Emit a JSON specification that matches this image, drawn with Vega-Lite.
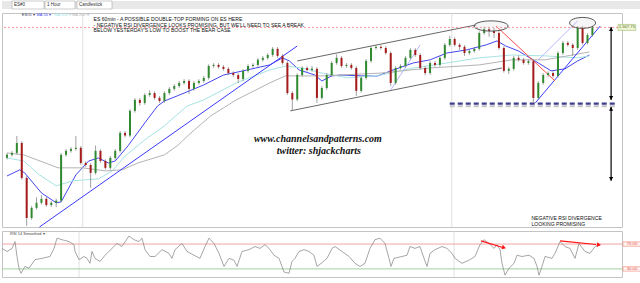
{
"$schema": "https://vega.github.io/schema/vega-lite/v6.json",
"padding": 0,
"spacing": 2,
"background": "white",
"config": {"font": "Liberation Sans", "view": {"stroke": "#c4c4c4"}, "axis": {"labelFont": "Liberation Sans", "titleFont": "Liberation Sans"}},
"datasets": {
"toolbar": [{"a": 10, "b": 42, "t": "ES#0"}, {"a": 43, "b": 73, "t": "1 Hour"}, {"a": 75, "b": 110, "t": "Candlestick"}],
"months": [{"i": 77}, {"i": 452}],
"candles": [
{"i":0,"o":1508.5,"h":1510.6,"l":1507.7,"c":1509.8},{"i":5,"o":1509.8,"h":1511.5,"l":1509.0,"c":1510.7},{"i":10,"o":1510.7,"h":1518.4,"l":1509.9,"c":1515.2},{"i":15,"o":1515.2,"h":1516.0,"l":1498.5,"c":1499.3},{"i":20,"o":1499.3,"h":1500.1,"l":1477.5,"c":1481.1},
{"i":25,"o":1481.1,"h":1486.5,"l":1480.3,"c":1485.7},{"i":30,"o":1485.7,"h":1490.5,"l":1484.9,"c":1488.0},{"i":35,"o":1488.0,"h":1491.5,"l":1487.2,"c":1489.8},{"i":40,"o":1489.8,"h":1490.6,"l":1486.2,"c":1487.0},{"i":45,"o":1487.0,"h":1488.8,"l":1486.2,"c":1488.0},
{"i":50,"o":1488.0,"h":1489.8,"l":1486.0,"c":1489.0},{"i":55,"o":1489.0,"h":1510.6,"l":1488.2,"c":1509.8},{"i":60,"o":1509.8,"h":1512.4,"l":1509.0,"c":1511.6},{"i":65,"o":1511.6,"h":1513.3,"l":1510.8,"c":1512.5},{"i":70,"o":1512.5,"h":1518.4,"l":1511.7,"c":1513.0},
{"i":75,"o":1513.0,"h":1513.8,"l":1505.3,"c":1506.1},{"i":80,"o":1506.1,"h":1506.9,"l":1504.4,"c":1505.2},{"i":85,"o":1505.2,"h":1506.0,"l":1494.8,"c":1501.6},{"i":90,"o":1501.6,"h":1514.0,"l":1500.8,"c":1511.6},{"i":95,"o":1511.6,"h":1512.4,"l":1506.2,"c":1507.0},
{"i":100,"o":1507.0,"h":1507.8,"l":1503.1,"c":1503.9},{"i":105,"o":1503.9,"h":1509.2,"l":1503.1,"c":1508.4},{"i":110,"o":1508.4,"h":1512.4,"l":1507.6,"c":1511.6},{"i":115,"o":1511.6,"h":1520.6,"l":1510.8,"c":1519.8},{"i":120,"o":1519.8,"h":1520.6,"l":1517.8,"c":1518.6},
{"i":125,"o":1518.6,"h":1530.6,"l":1517.8,"c":1529.8},{"i":130,"o":1529.8,"h":1535.6,"l":1529.0,"c":1534.8},{"i":135,"o":1534.8,"h":1535.6,"l":1532.2,"c":1533.4},{"i":140,"o":1533.4,"h":1537.8,"l":1532.6,"c":1537.0},{"i":145,"o":1537.0,"h":1539.2,"l":1536.2,"c":1537.9},
{"i":150,"o":1537.9,"h":1538.7,"l":1534.9,"c":1535.7},{"i":155,"o":1535.7,"h":1536.5,"l":1533.5,"c":1534.3},{"i":160,"o":1534.3,"h":1538.7,"l":1533.5,"c":1537.9},{"i":165,"o":1537.9,"h":1540.6,"l":1537.1,"c":1539.8},{"i":170,"o":1539.8,"h":1541.9,"l":1539.0,"c":1541.1},
{"i":175,"o":1541.1,"h":1543.3,"l":1540.3,"c":1542.5},{"i":180,"o":1542.5,"h":1544.2,"l":1541.7,"c":1543.4},{"i":185,"o":1543.4,"h":1544.2,"l":1537.5,"c":1539.8},{"i":190,"o":1539.8,"h":1543.3,"l":1539.0,"c":1542.5},{"i":195,"o":1542.5,"h":1544.2,"l":1541.7,"c":1543.4},
{"i":200,"o":1543.4,"h":1545.6,"l":1542.6,"c":1544.8},{"i":205,"o":1544.8,"h":1551.0,"l":1544.0,"c":1550.2},{"i":210,"o":1550.2,"h":1551.5,"l":1549.4,"c":1550.7},{"i":215,"o":1550.7,"h":1551.5,"l":1549.0,"c":1549.8},{"i":220,"o":1549.8,"h":1550.6,"l":1548.1,"c":1548.9},
{"i":225,"o":1548.9,"h":1549.7,"l":1546.2,"c":1547.0},{"i":230,"o":1547.0,"h":1547.8,"l":1545.3,"c":1546.1},{"i":235,"o":1546.1,"h":1546.9,"l":1542.5,"c":1544.3},{"i":240,"o":1544.3,"h":1548.8,"l":1543.5,"c":1548.0},{"i":245,"o":1548.0,"h":1551.0,"l":1547.2,"c":1550.2},
{"i":250,"o":1550.2,"h":1551.5,"l":1549.4,"c":1550.7},{"i":255,"o":1550.7,"h":1553.8,"l":1549.9,"c":1553.0},{"i":260,"o":1553.0,"h":1554.7,"l":1552.2,"c":1553.9},{"i":265,"o":1553.9,"h":1556.0,"l":1553.1,"c":1555.2},{"i":270,"o":1555.2,"h":1558.8,"l":1554.4,"c":1558.0},
{"i":275,"o":1558.0,"h":1558.8,"l":1554.0,"c":1554.8},{"i":280,"o":1554.8,"h":1555.6,"l":1550.8,"c":1551.6},{"i":285,"o":1551.6,"h":1552.4,"l":1537.1,"c":1537.9},{"i":290,"o":1537.9,"h":1538.7,"l":1529.8,"c":1535.0},{"i":295,"o":1535.0,"h":1546.9,"l":1534.2,"c":1546.1},
{"i":300,"o":1546.1,"h":1550.1,"l":1545.3,"c":1549.3},{"i":305,"o":1549.3,"h":1550.1,"l":1547.6,"c":1548.4},{"i":310,"o":1548.4,"h":1550.2,"l":1547.6,"c":1548.9},{"i":315,"o":1548.9,"h":1549.7,"l":1533.4,"c":1535.7},{"i":320,"o":1535.7,"h":1541.0,"l":1534.9,"c":1540.2},
{"i":325,"o":1540.2,"h":1546.9,"l":1539.4,"c":1546.1},{"i":330,"o":1546.1,"h":1552.4,"l":1545.3,"c":1551.6},{"i":335,"o":1551.6,"h":1555.5,"l":1550.8,"c":1553.9},{"i":340,"o":1553.9,"h":1554.7,"l":1549.4,"c":1550.2},{"i":345,"o":1550.2,"h":1551.5,"l":1549.4,"c":1550.7},
{"i":350,"o":1550.7,"h":1551.5,"l":1548.5,"c":1549.3},{"i":355,"o":1549.3,"h":1550.1,"l":1536.6,"c":1538.9},{"i":360,"o":1538.9,"h":1545.6,"l":1538.1,"c":1544.8},{"i":365,"o":1544.8,"h":1553.3,"l":1544.0,"c":1552.5},{"i":370,"o":1552.5,"h":1559.2,"l":1551.7,"c":1558.4},
{"i":375,"o":1558.4,"h":1559.7,"l":1557.6,"c":1558.9},{"i":380,"o":1558.9,"h":1559.7,"l":1557.6,"c":1558.4},{"i":385,"o":1558.4,"h":1559.2,"l":1555.3,"c":1556.1},{"i":390,"o":1556.1,"h":1556.9,"l":1541.0,"c":1542.5},{"i":395,"o":1542.5,"h":1550.1,"l":1541.7,"c":1549.3},
{"i":400,"o":1549.3,"h":1551.0,"l":1548.5,"c":1550.2},{"i":405,"o":1550.2,"h":1554.7,"l":1549.4,"c":1553.9},{"i":410,"o":1553.9,"h":1558.3,"l":1553.1,"c":1557.5},{"i":415,"o":1557.5,"h":1558.3,"l":1554.4,"c":1555.2},{"i":420,"o":1555.2,"h":1556.0,"l":1548.5,"c":1549.3},
{"i":425,"o":1549.3,"h":1550.1,"l":1546.0,"c":1547.0},{"i":430,"o":1547.0,"h":1552.4,"l":1546.2,"c":1551.6},{"i":435,"o":1551.6,"h":1552.4,"l":1549.9,"c":1550.7},{"i":440,"o":1550.7,"h":1554.7,"l":1549.9,"c":1553.9},{"i":445,"o":1553.9,"h":1560.6,"l":1553.1,"c":1559.8},
{"i":450,"o":1559.8,"h":1563.9,"l":1559.0,"c":1562.5},{"i":455,"o":1562.5,"h":1563.3,"l":1559.0,"c":1559.8},{"i":460,"o":1559.8,"h":1560.6,"l":1557.5,"c":1558.9},{"i":465,"o":1558.9,"h":1559.7,"l":1554.8,"c":1556.1},{"i":470,"o":1556.1,"h":1557.8,"l":1555.3,"c":1557.0},
{"i":475,"o":1557.0,"h":1558.8,"l":1556.2,"c":1558.0},{"i":480,"o":1558.0,"h":1566.0,"l":1557.2,"c":1565.2},{"i":485,"o":1565.2,"h":1568.0,"l":1564.4,"c":1567.0},{"i":490,"o":1567.0,"h":1567.8,"l":1563.5,"c":1566.1},{"i":495,"o":1566.1,"h":1567.5,"l":1563.0,"c":1565.2},
{"i":500,"o":1565.2,"h":1566.0,"l":1557.6,"c":1558.4},{"i":505,"o":1558.4,"h":1559.2,"l":1547.2,"c":1548.0},{"i":510,"o":1548.0,"h":1549.7,"l":1546.5,"c":1548.9},{"i":515,"o":1548.9,"h":1554.7,"l":1548.1,"c":1553.9},{"i":520,"o":1553.9,"h":1555.0,"l":1552.2,"c":1553.0},
{"i":525,"o":1553.0,"h":1553.8,"l":1550.8,"c":1551.6},{"i":530,"o":1551.6,"h":1553.2,"l":1550.8,"c":1552.4},{"i":535,"o":1552.4,"h":1553.2,"l":1533.4,"c":1535.7},{"i":540,"o":1535.7,"h":1543.3,"l":1534.9,"c":1542.5},{"i":545,"o":1542.5,"h":1546.9,"l":1541.7,"c":1546.1},
{"i":550,"o":1546.1,"h":1547.8,"l":1545.3,"c":1547.0},{"i":555,"o":1547.0,"h":1547.8,"l":1544.9,"c":1545.7},{"i":560,"o":1545.7,"h":1556.9,"l":1544.9,"c":1556.1},{"i":565,"o":1556.1,"h":1561.5,"l":1555.3,"c":1560.7},{"i":570,"o":1560.7,"h":1561.5,"l":1559.0,"c":1559.8},
{"i":575,"o":1559.8,"h":1560.6,"l":1554.8,"c":1558.4},{"i":580,"o":1558.4,"h":1568.3,"l":1557.6,"c":1567.5},{"i":585,"o":1567.5,"h":1568.3,"l":1559.9,"c":1560.7},{"i":590,"o":1560.7,"h":1565.1,"l":1559.9,"c":1564.3},{"i":595,"o":1564.3,"h":1568.5,"l":1563.5,"c":1567.75}
],
"ma": [
{"s":"ma50","i":0,"p":1500.2},{"s":"ma50","i":13,"p":1503.0},{"s":"ma50","i":18,"p":1501.6},{"s":"ma50","i":35,"p":1492.5},{"s":"ma50","i":50,"p":1488.0},{"s":"ma50","i":55,"p":1488.4},{"s":"ma50","i":70,"p":1500.7},{"s":"ma50","i":83,"p":1507.0},{"s":"ma50","i":93,"p":1508.4},{"s":"ma50","i":103,"p":1506.1},{"s":"ma50","i":110,"p":1507.0},{"s":"ma50","i":123,"p":1513.9},{"s":"ma50","i":140,"p":1524.3},{"s":"ma50","i":153,"p":1532.0},{"s":"ma50","i":160,"p":1534.3},{"s":"ma50","i":173,"p":1536.6},{"s":"ma50","i":200,"p":1541.6},{"s":"ma50","i":220,"p":1546.1},{"s":"ma50","i":240,"p":1548.0},{"s":"ma50","i":267,"p":1550.7},{"s":"ma50","i":280,"p":1553.9},{"s":"ma50","i":287,"p":1552.5},{"s":"ma50","i":297,"p":1548.4},{"s":"ma50","i":313,"p":1546.1},{"s":"ma50","i":320,"p":1543.4},{"s":"ma50","i":330,"p":1545.7},{"s":"ma50","i":340,"p":1546.1},{"s":"ma50","i":360,"p":1545.7},{"s":"ma50","i":377,"p":1545.7},{"s":"ma50","i":390,"p":1548.0},{"s":"ma50","i":413,"p":1551.6},{"s":"ma50","i":430,"p":1553.0},{"s":"ma50","i":447,"p":1556.1},{"s":"ma50","i":467,"p":1557.5},{"s":"ma50","i":487,"p":1559.8},{"s":"ma50","i":498,"p":1561.6},{"s":"ma50","i":507,"p":1559.3},{"s":"ma50","i":520,"p":1557.0},{"s":"ma50","i":540,"p":1551.6},{"s":"ma50","i":553,"p":1548.0},{"s":"ma50","i":567,"p":1548.9},{"s":"ma50","i":580,"p":1552.5},{"s":"ma50","i":592,"p":1555.2},
{"s":"ma100","i":0,"p":1508.4},{"s":"ma100","i":17,"p":1507.0},{"s":"ma100","i":33,"p":1500.7},{"s":"ma100","i":50,"p":1495.7},{"s":"ma100","i":67,"p":1498.0},{"s":"ma100","i":93,"p":1498.9},{"s":"ma100","i":107,"p":1502.5},{"s":"ma100","i":120,"p":1509.3},{"s":"ma100","i":140,"p":1516.6},{"s":"ma100","i":160,"p":1523.0},{"s":"ma100","i":183,"p":1532.0},{"s":"ma100","i":200,"p":1534.8},{"s":"ma100","i":233,"p":1542.5},{"s":"ma100","i":267,"p":1548.4},{"s":"ma100","i":283,"p":1550.2},{"s":"ma100","i":300,"p":1549.3},{"s":"ma100","i":320,"p":1547.0},{"s":"ma100","i":347,"p":1544.8},{"s":"ma100","i":380,"p":1546.1},{"s":"ma100","i":413,"p":1549.3},{"s":"ma100","i":447,"p":1551.6},{"s":"ma100","i":480,"p":1553.9},{"s":"ma100","i":513,"p":1555.2},{"s":"ma100","i":547,"p":1554.8},{"s":"ma100","i":580,"p":1553.9},{"s":"ma100","i":592,"p":1554.8},
{"s":"ma200","i":0,"p":1510.7},{"s":"ma200","i":17,"p":1509.8},{"s":"ma200","i":52,"p":1503.9},{"s":"ma200","i":77,"p":1503.9},{"s":"ma200","i":100,"p":1502.5},{"s":"ma200","i":117,"p":1503.0},{"s":"ma200","i":133,"p":1506.1},{"s":"ma200","i":160,"p":1509.8},{"s":"ma200","i":173,"p":1513.9},{"s":"ma200","i":187,"p":1519.8},{"s":"ma200","i":207,"p":1527.5},{"s":"ma200","i":233,"p":1534.8},{"s":"ma200","i":267,"p":1542.5},{"s":"ma200","i":283,"p":1545.7},{"s":"ma200","i":320,"p":1545.7},{"s":"ma200","i":380,"p":1547.0},{"s":"ma200","i":430,"p":1549.3},{"s":"ma200","i":480,"p":1550.7},{"s":"ma200","i":513,"p":1553.0},{"s":"ma200","i":547,"p":1553.0},{"s":"ma200","i":592,"p":1556.6}
],
"legend": [{"s":"ma50","i":30,"p":1573.4,"t":"MA 50 ▾"},{"s":"ma100","i":48,"p":1573.4,"t":"MA 100 ▾"},{"s":"ma200","i":66,"p":1573.4,"t":"MA 200 ▾"}],
"sym": [{"i":15,"p":1573.4,"t":"ES#0 ▾"}],
"tl_chan": [{"i":295,"i2":477,"p":1552.5,"p2":1568.9},{"i":288,"i2":503,"p":1529.8,"p2":1549.3}],
"tl_blue": [{"i":33,"i2":295,"p":1477.0,"p2":1559.3},{"i":537,"i2":603,"p":1533.4,"p2":1568.4}],
"tl_lav": [{"i":390,"i2":420,"p":1539.3,"p2":1559.8},{"i":540,"i2":580,"p":1553.0,"p2":1570.7}],
"tl_red": [{"i":497,"i2":557,"p":1568.4,"p2":1543.4}],
"resist": [{"p":1567.75}],
"support": [{"i":450,"i2":620,"p":1533.1}],
"support_shadow": [{"i":450,"i2":620,"p":1531.9}],
"ell1": [{"i":492,"p":1568.4}],
"ell2": [{"i":585,"p":1569.8}],
"arrows": [{"i":614,"p":1567.9,"p2":1534.8},{"i":614,"p":1531.6,"p2":1498.0}],
"heads": [{"i":614,"p":1567.0,"dir":"up"},{"i":614,"p":1535.7,"dir":"down"},{"i":614,"p":1530.7,"dir":"up"},{"i":614,"p":1498.9,"dir":"down"}],
"title_txt": [{"i":88,"p":1571.7,"t":"ES 60min - A POSSIBLE DOUBLE-TOP FORMING ON ES HERE"},{"i":88,"p":1569.0,"t":"- NEGATIVE RSI DIVERGENCE LOOKS PROMISING, BUT WE'LL NEED TO SEE A BREAK"},{"i":88,"p":1566.5,"t":"BELOW YESTERDAY'S LOW TO BOOST THE BEAR CASE"}],
"wm_txt": [{"i":316,"p":1516.8,"t":"www.channelsandpatterns.com"},{"i":317,"p":1511.4,"t":"twitter: shjackcharts"}],
"note_txt": [{"i":533,"p":1481.1,"t":"NEGATIVE RSI DIVERGENCE"},{"i":533,"p":1478.4,"t":"LOOKING PROMISING"}],
"pricebox": [{"i":621,"i2":639,"p":1566.4,"p2":1569.1,"m":630,"q":1567.75,"t":"1,567.75"}],
"rsi": [
{"i":0,"r":63},{"i":5,"r":58},{"i":10,"r":63},{"i":13,"r":74},{"i":15,"r":50},{"i":17,"r":31},{"i":19,"r":23},{"i":23,"r":34},{"i":27,"r":31},{"i":33,"r":45},{"i":40,"r":47},{"i":48,"r":50},{"i":52,"r":63},{"i":55,"r":79.5},{"i":60,"r":77},{"i":67,"r":74},{"i":72,"r":69},{"i":73,"r":58},{"i":77,"r":45},{"i":82,"r":50},{"i":85,"r":47},{"i":88,"r":39},{"i":90,"r":58},{"i":93,"r":47},{"i":98,"r":42},{"i":103,"r":52},{"i":110,"r":63},{"i":115,"r":71},{"i":120,"r":66},{"i":127,"r":83},{"i":132,"r":77},{"i":137,"r":74},{"i":140,"r":79.5},{"i":143,"r":61},{"i":148,"r":50},{"i":153,"r":50},{"i":160,"r":61},{"i":167,"r":55},{"i":170,"r":47},{"i":173,"r":61},{"i":180,"r":71},{"i":185,"r":58},{"i":192,"r":52},{"i":198,"r":47},{"i":203,"r":66},{"i":207,"r":79.5},{"i":212,"r":71},{"i":217,"r":55},{"i":222,"r":34},{"i":227,"r":47},{"i":232,"r":44},{"i":235,"r":34},{"i":240,"r":58},{"i":247,"r":61},{"i":253,"r":66},{"i":258,"r":63},{"i":263,"r":69},{"i":267,"r":63},{"i":272,"r":52},{"i":277,"r":47},{"i":282,"r":25},{"i":287,"r":23},{"i":290,"r":42},{"i":293,"r":47},{"i":297,"r":58},{"i":302,"r":61},{"i":307,"r":58},{"i":312,"r":52},{"i":315,"r":34},{"i":320,"r":40},{"i":325,"r":47},{"i":330,"r":63},{"i":333,"r":66},{"i":340,"r":58},{"i":347,"r":50},{"i":353,"r":39},{"i":358,"r":34},{"i":363,"r":39},{"i":368,"r":63},{"i":373,"r":77},{"i":378,"r":79.5},{"i":383,"r":71},{"i":387,"r":47},{"i":389,"r":34},{"i":392,"r":47},{"i":400,"r":50},{"i":405,"r":52},{"i":408,"r":66},{"i":413,"r":63},{"i":418,"r":66},{"i":422,"r":47},{"i":425,"r":34},{"i":428,"r":55},{"i":433,"r":61},{"i":440,"r":66},{"i":445,"r":63},{"i":450,"r":55},{"i":453,"r":47},{"i":460,"r":39},{"i":467,"r":44},{"i":473,"r":50},{"i":478,"r":69},{"i":482,"r":77},{"i":487,"r":71},{"i":492,"r":63},{"i":495,"r":69},{"i":498,"r":61},{"i":500,"r":39},{"i":503,"r":20},{"i":507,"r":31},{"i":512,"r":39},{"i":515,"r":52},{"i":520,"r":50},{"i":527,"r":52},{"i":532,"r":47},{"i":535,"r":34},{"i":537,"r":20},{"i":540,"r":34},{"i":543,"r":50},{"i":550,"r":47},{"i":553,"r":55},{"i":558,"r":74},{"i":563,"r":66},{"i":568,"r":63},{"i":573,"r":47},{"i":577,"r":71},{"i":583,"r":58},{"i":588,"r":55},{"i":593,"r":66},{"i":597,"r":69}
],
"rsi_lvl_hi": [{"r":70}],
"rsi_lvl_lo": [{"r":30}],
"rsi_arrows": [{"i":479,"i2":500,"r":75.1,"r2":65.0},{"i":558,"i2":594,"r":75.1,"r2":69.2}],
"rsi_head1": [{"i":502,"r":64.4}],
"rsi_head2": [{"i":597,"r":68.8}],
"rsi_boxes": [{"i":621,"i2":639,"r":73.6,"r2":66.4,"m":630,"q":70,"t":"70.00"},{"i":621,"i2":639,"r":33.6,"r2":26.4,"m":630,"q":30,"t":"30.00"}],
"rsi_title": [{"i":8,"r":86,"t":"RSI 14 Smoothed ▾"}]
},
"vconcat": [
{
"width": 640, "height": 8,
"view": {"fill": "#e8e8e8", "stroke": null},
"data": {"name": "toolbar"},
"layer": [
{"mark": {"type": "rect", "fill": "white", "stroke": "#9a9a9a", "strokeWidth": 0.5},
 "encoding": {"x": {"field": "a", "type": "quantitative", "scale": {"domain": [0, 640], "nice": false, "zero": false}, "axis": null}, "x2": {"field": "b"}}},
{"mark": {"type": "text", "align": "left", "baseline": "middle", "fontSize": 4.5, "color": "#333", "dx": 2},
 "encoding": {"x": {"field": "a", "type": "quantitative", "scale": {"domain": [0, 640], "nice": false, "zero": false}, "axis": null}, "text": {"field": "t"}}}
]
},
{
"width": 620, "height": 214,
"layer": [
{"data": {"name": "months"}, "mark": {"type": "rule", "color": "#d8d8d8", "strokeWidth": 0.8},
 "encoding": {"x": {"field": "i", "type": "quantitative", "scale": {"domain": [0, 620], "nice": false, "zero": false}, "axis": null}}},
{"data": {"name": "ma"}, "mark": {"type": "line", "strokeWidth": 1},
 "encoding": {
  "x": {"field": "i", "type": "quantitative", "scale": {"domain": [0, 620], "nice": false, "zero": false}, "axis": null},
  "y": {"field": "p", "type": "quantitative", "scale": {"domain": [1477, 1574.3], "nice": false, "zero": false},
        "axis": {"orient": "right", "values": [1480, 1490, 1500, 1510, 1520, 1530, 1540, 1550, 1560, 1570], "format": ",.2f", "title": null, "grid": true, "gridColor": "#e4e4e4", "labelFontSize": 4.2, "labelColor": "#555", "tickSize": 2, "tickColor": "#999", "labelPadding": 1, "domainColor": "#999"}},
  "color": {"field": "s", "type": "nominal", "scale": {"domain": ["ma50", "ma100", "ma200"], "range": ["#4646f0", "#a6e3e3", "#b4b4b4"]}, "legend": null}}},
{"data": {"name": "tl_chan"}, "mark": {"type": "rule", "color": "#404040", "strokeWidth": 0.8},
 "encoding": {"x": {"field": "i", "type": "quantitative", "scale": {"domain": [0, 620], "nice": false, "zero": false}, "axis": null}, "x2": {"field": "i2"},
  "y": {"field": "p", "type": "quantitative", "scale": {"domain": [1477, 1574.3], "nice": false, "zero": false}, "axis": null}, "y2": {"field": "p2"}}},
{"data": {"name": "tl_blue"}, "mark": {"type": "rule", "color": "#3a3aff", "strokeWidth": 1},
 "encoding": {"x": {"field": "i", "type": "quantitative", "scale": {"domain": [0, 620], "nice": false, "zero": false}, "axis": null}, "x2": {"field": "i2"},
  "y": {"field": "p", "type": "quantitative", "scale": {"domain": [1477, 1574.3], "nice": false, "zero": false}, "axis": null}, "y2": {"field": "p2"}}},
{"data": {"name": "tl_lav"}, "mark": {"type": "rule", "color": "#a4a4ff", "strokeWidth": 0.8},
 "encoding": {"x": {"field": "i", "type": "quantitative", "scale": {"domain": [0, 620], "nice": false, "zero": false}, "axis": null}, "x2": {"field": "i2"},
  "y": {"field": "p", "type": "quantitative", "scale": {"domain": [1477, 1574.3], "nice": false, "zero": false}, "axis": null}, "y2": {"field": "p2"}}},
{"data": {"name": "tl_red"}, "mark": {"type": "rule", "color": "#ff4a4a", "strokeWidth": 1},
 "encoding": {"x": {"field": "i", "type": "quantitative", "scale": {"domain": [0, 620], "nice": false, "zero": false}, "axis": null}, "x2": {"field": "i2"},
  "y": {"field": "p", "type": "quantitative", "scale": {"domain": [1477, 1574.3], "nice": false, "zero": false}, "axis": null}, "y2": {"field": "p2"}}},
{"data": {"name": "resist"}, "mark": {"type": "rule", "color": "#ff7a7a", "strokeWidth": 0.8, "strokeDash": [2, 2]},
 "encoding": {"y": {"field": "p", "type": "quantitative", "scale": {"domain": [1477, 1574.3], "nice": false, "zero": false}, "axis": null}}},
{"data": {"name": "support_shadow"}, "mark": {"type": "rule", "color": "#c4c4c4", "strokeWidth": 2, "strokeDash": [5, 3]},
 "encoding": {"x": {"field": "i", "type": "quantitative", "scale": {"domain": [0, 620], "nice": false, "zero": false}, "axis": null}, "x2": {"field": "i2"},
  "y": {"field": "p", "type": "quantitative", "scale": {"domain": [1477, 1574.3], "nice": false, "zero": false}, "axis": null}}},
{"data": {"name": "support"}, "mark": {"type": "rule", "color": "#3c3c8e", "strokeWidth": 2.4, "strokeDash": [5, 3]},
 "encoding": {"x": {"field": "i", "type": "quantitative", "scale": {"domain": [0, 620], "nice": false, "zero": false}, "axis": null}, "x2": {"field": "i2"},
  "y": {"field": "p", "type": "quantitative", "scale": {"domain": [1477, 1574.3], "nice": false, "zero": false}, "axis": null}}},
{"data": {"name": "candles"}, "mark": {"type": "rule", "color": "#777777", "strokeWidth": 0.7},
 "encoding": {"x": {"field": "i", "type": "quantitative", "scale": {"domain": [0, 620], "nice": false, "zero": false}, "axis": null},
  "y": {"field": "l", "type": "quantitative", "scale": {"domain": [1477, 1574.3], "nice": false, "zero": false}, "axis": null}, "y2": {"field": "h"}}},
{"data": {"name": "candles"}, "mark": {"type": "bar", "size": 2},
 "encoding": {"x": {"field": "i", "type": "quantitative", "scale": {"domain": [0, 620], "nice": false, "zero": false}, "axis": null},
  "y": {"field": "o", "type": "quantitative", "scale": {"domain": [1477, 1574.3], "nice": false, "zero": false}, "axis": null}, "y2": {"field": "c"},
  "color": {"condition": {"test": "datum.c >= datum.o", "value": "#2f8a2f"}, "value": "#a51a1a"}}},
{"data": {"name": "ell1"}, "mark": {"type": "point", "shape": "M -1 0 A 1 0.3 0 1 1 1 0 A 1 0.3 0 1 1 -1 0 Z", "size": 1156, "fill": "#d4d4d4", "fillOpacity": 0.2, "stroke": "#444", "strokeWidth": 0.9, "opacity": 1},
 "encoding": {"x": {"field": "i", "type": "quantitative", "scale": {"domain": [0, 620], "nice": false, "zero": false}, "axis": null},
  "y": {"field": "p", "type": "quantitative", "scale": {"domain": [1477, 1574.3], "nice": false, "zero": false}, "axis": null}}},
{"data": {"name": "ell2"}, "mark": {"type": "point", "shape": "M -1 0 A 1 0.42 0 1 1 1 0 A 1 0.42 0 1 1 -1 0 Z", "size": 676, "fill": "#d4d4d4", "fillOpacity": 0.2, "stroke": "#444", "strokeWidth": 0.9, "opacity": 1},
 "encoding": {"x": {"field": "i", "type": "quantitative", "scale": {"domain": [0, 620], "nice": false, "zero": false}, "axis": null},
  "y": {"field": "p", "type": "quantitative", "scale": {"domain": [1477, 1574.3], "nice": false, "zero": false}, "axis": null}}},
{"data": {"name": "arrows"}, "mark": {"type": "rule", "color": "#000", "strokeWidth": 1.2},
 "encoding": {"x": {"field": "i", "type": "quantitative", "scale": {"domain": [0, 620], "nice": false, "zero": false}, "axis": null},
  "y": {"field": "p", "type": "quantitative", "scale": {"domain": [1477, 1574.3], "nice": false, "zero": false}, "axis": null}, "y2": {"field": "p2"}}},
{"data": {"name": "heads"}, "mark": {"type": "point", "filled": true, "color": "#000", "size": 18, "opacity": 1},
 "encoding": {"x": {"field": "i", "type": "quantitative", "scale": {"domain": [0, 620], "nice": false, "zero": false}, "axis": null},
  "y": {"field": "p", "type": "quantitative", "scale": {"domain": [1477, 1574.3], "nice": false, "zero": false}, "axis": null},
  "shape": {"field": "dir", "type": "nominal", "scale": {"domain": ["up", "down"], "range": ["triangle-up", "triangle-down"]}, "legend": null}}},
{"data": {"name": "title_txt"}, "mark": {"type": "text", "align": "left", "baseline": "middle", "fontSize": 5.1, "color": "#111"},
 "encoding": {"x": {"field": "i", "type": "quantitative", "scale": {"domain": [0, 620], "nice": false, "zero": false}, "axis": null},
  "y": {"field": "p", "type": "quantitative", "scale": {"domain": [1477, 1574.3], "nice": false, "zero": false}, "axis": null}, "text": {"field": "t"}}},
{"data": {"name": "note_txt"}, "mark": {"type": "text", "align": "left", "baseline": "middle", "fontSize": 5.1, "color": "#111"},
 "encoding": {"x": {"field": "i", "type": "quantitative", "scale": {"domain": [0, 620], "nice": false, "zero": false}, "axis": null},
  "y": {"field": "p", "type": "quantitative", "scale": {"domain": [1477, 1574.3], "nice": false, "zero": false}, "axis": null}, "text": {"field": "t"}}},
{"data": {"name": "wm_txt"}, "mark": {"type": "text", "align": "center", "baseline": "middle", "fontSize": 10, "font": "Liberation Serif", "fontStyle": "italic", "fontWeight": "bold", "color": "#111"},
 "encoding": {"x": {"field": "i", "type": "quantitative", "scale": {"domain": [0, 620], "nice": false, "zero": false}, "axis": null},
  "y": {"field": "p", "type": "quantitative", "scale": {"domain": [1477, 1574.3], "nice": false, "zero": false}, "axis": null}, "text": {"field": "t"}}},
{"data": {"name": "legend"}, "mark": {"type": "text", "align": "left", "baseline": "middle", "fontSize": 4},
 "encoding": {"x": {"field": "i", "type": "quantitative", "scale": {"domain": [0, 620], "nice": false, "zero": false}, "axis": null},
  "y": {"field": "p", "type": "quantitative", "scale": {"domain": [1477, 1574.3], "nice": false, "zero": false}, "axis": null}, "text": {"field": "t"},
  "color": {"field": "s", "type": "nominal", "scale": {"domain": ["ma50", "ma100", "ma200"], "range": ["#4646f0", "#a6e3e3", "#b4b4b4"]}, "legend": null}}},
{"data": {"name": "sym"}, "mark": {"type": "text", "align": "left", "baseline": "middle", "fontSize": 4, "color": "#335"},
 "encoding": {"x": {"field": "i", "type": "quantitative", "scale": {"domain": [0, 620], "nice": false, "zero": false}, "axis": null},
  "y": {"field": "p", "type": "quantitative", "scale": {"domain": [1477, 1574.3], "nice": false, "zero": false}, "axis": null}, "text": {"field": "t"}}},
{"data": {"name": "pricebox"}, "mark": {"type": "rect", "fill": "#f1f6d6", "stroke": "#9cba6a", "strokeWidth": 0.6},
 "encoding": {"x": {"field": "i", "type": "quantitative", "scale": {"domain": [0, 620], "nice": false, "zero": false}, "axis": null}, "x2": {"field": "i2"},
  "y": {"field": "p", "type": "quantitative", "scale": {"domain": [1477, 1574.3], "nice": false, "zero": false}, "axis": null}, "y2": {"field": "p2"}}},
{"data": {"name": "pricebox"}, "mark": {"type": "text", "align": "center", "baseline": "middle", "fontSize": 4.2, "color": "#556b2f"},
 "encoding": {"x": {"field": "m", "type": "quantitative", "scale": {"domain": [0, 620], "nice": false, "zero": false}, "axis": null},
  "y": {"field": "q", "type": "quantitative", "scale": {"domain": [1477, 1574.3], "nice": false, "zero": false}, "axis": null}, "text": {"field": "t"}}}
]
},
{
"width": 620, "height": 46,
"layer": [
{"data": {"name": "months"}, "mark": {"type": "rule", "color": "#d8d8d8", "strokeWidth": 0.8},
 "encoding": {"x": {"field": "i", "type": "quantitative", "scale": {"domain": [0, 620], "nice": false, "zero": false}, "axis": null}}},
{"data": {"name": "rsi_lvl_hi"}, "mark": {"type": "rule", "color": "#f2a4a4", "strokeWidth": 1},
 "encoding": {"y": {"field": "r", "type": "quantitative", "scale": {"domain": [17, 91], "nice": false, "zero": false}, "axis": null}}},
{"data": {"name": "rsi_lvl_lo"}, "mark": {"type": "rule", "color": "#a3cfa3", "strokeWidth": 1},
 "encoding": {"y": {"field": "r", "type": "quantitative", "scale": {"domain": [17, 91], "nice": false, "zero": false}, "axis": null}}},
{"data": {"name": "rsi"}, "mark": {"type": "line", "color": "#808080", "strokeWidth": 0.7},
 "encoding": {
  "x": {"field": "i", "type": "quantitative", "scale": {"domain": [0, 620], "nice": false, "zero": false},
        "axis": {"orient": "bottom", "values": [38, 264, 455], "labelExpr": "datum.value < 100 ? 'Feb' : datum.value < 400 ? 'Mar' : 'Apr'", "ticks": false, "grid": false, "labelFontSize": 4.5, "labelColor": "#444", "labelPadding": 1, "title": "2013", "titleFontSize": 4.5, "titleFontWeight": "normal", "titleColor": "#444", "titlePadding": 1, "domainColor": "#999"}},
  "y": {"field": "r", "type": "quantitative", "scale": {"domain": [17, 91], "nice": false, "zero": false},
        "axis": {"orient": "right", "values": [20, 40, 60, 80], "format": ".2f", "title": null, "grid": true, "gridColor": "#ececec", "labelFontSize": 4.2, "labelColor": "#555", "tickSize": 2, "tickColor": "#999", "labelPadding": 1, "domainColor": "#999"}}}},
{"data": {"name": "rsi_arrows"}, "mark": {"type": "rule", "color": "#ff1010", "strokeWidth": 1.1},
 "encoding": {"x": {"field": "i", "type": "quantitative", "scale": {"domain": [0, 620], "nice": false, "zero": false}, "axis": null}, "x2": {"field": "i2"},
  "y": {"field": "r", "type": "quantitative", "scale": {"domain": [17, 91], "nice": false, "zero": false}, "axis": null}, "y2": {"field": "r2"}}},
{"data": {"name": "rsi_head1"}, "mark": {"type": "point", "shape": "triangle-right", "filled": true, "color": "#ff1010", "size": 22, "opacity": 1, "angle": 17},
 "encoding": {"x": {"field": "i", "type": "quantitative", "scale": {"domain": [0, 620], "nice": false, "zero": false}, "axis": null},
  "y": {"field": "r", "type": "quantitative", "scale": {"domain": [17, 91], "nice": false, "zero": false}, "axis": null}}},
{"data": {"name": "rsi_head2"}, "mark": {"type": "point", "shape": "triangle-right", "filled": true, "color": "#ff1010", "size": 22, "opacity": 1, "angle": 6},
 "encoding": {"x": {"field": "i", "type": "quantitative", "scale": {"domain": [0, 620], "nice": false, "zero": false}, "axis": null},
  "y": {"field": "r", "type": "quantitative", "scale": {"domain": [17, 91], "nice": false, "zero": false}, "axis": null}}},
{"data": {"name": "rsi_boxes"}, "mark": {"type": "rect", "fill": "#fff2f0", "stroke": "#f08a7a", "strokeWidth": 0.6},
 "encoding": {"x": {"field": "i", "type": "quantitative", "scale": {"domain": [0, 620], "nice": false, "zero": false}, "axis": null}, "x2": {"field": "i2"},
  "y": {"field": "r", "type": "quantitative", "scale": {"domain": [17, 91], "nice": false, "zero": false}, "axis": null}, "y2": {"field": "r2"}}},
{"data": {"name": "rsi_boxes"}, "mark": {"type": "text", "align": "center", "baseline": "middle", "fontSize": 4.2, "color": "#e0503c"},
 "encoding": {"x": {"field": "m", "type": "quantitative", "scale": {"domain": [0, 620], "nice": false, "zero": false}, "axis": null},
  "y": {"field": "q", "type": "quantitative", "scale": {"domain": [17, 91], "nice": false, "zero": false}, "axis": null}, "text": {"field": "t"}}},
{"data": {"name": "rsi_title"}, "mark": {"type": "text", "align": "left", "baseline": "middle", "fontSize": 4, "color": "#444"},
 "encoding": {"x": {"field": "i", "type": "quantitative", "scale": {"domain": [0, 620], "nice": false, "zero": false}, "axis": null},
  "y": {"field": "r", "type": "quantitative", "scale": {"domain": [17, 91], "nice": false, "zero": false}, "axis": null}, "text": {"field": "t"}}}
]
}
]
}
